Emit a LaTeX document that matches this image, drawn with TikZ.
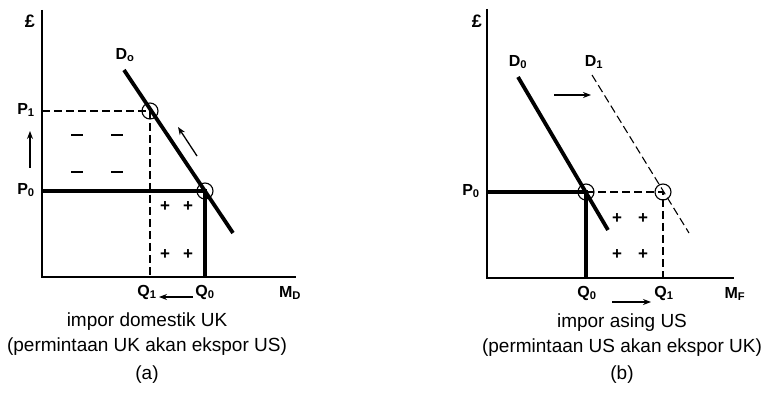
\documentclass[tikz,border=0pt]{standalone}
\usepackage{fontspec}
\setmainfont{Liberation Sans}
\usetikzlibrary{arrows.meta}
\begin{document}
\begin{tikzpicture}[x=1pt,y=-1pt,
  axis/.style={line width=1.8pt},
  thickline/.style={line width=3.8pt},
  dline/.style={line width=1.1pt, dash pattern=on 8pt off 4pt},
  ring/.style={circle, draw, line width=1.1pt, minimum size=16pt, inner sep=0pt},
  lbl/.style={font=\fontsize{16}{16}\selectfont\bfseries, inner sep=0pt},
  captxt/.style={font=\fontsize{19}{19}\selectfont, inner sep=0pt},
  signtxt/.style={font=\fontsize{17}{17}\selectfont\bfseries, inner sep=0pt},
  arr/.style={-{Stealth[length=8pt,width=6pt]}, line width=1.3pt},
  minusmark/.style={line width=1.6pt}
]
\useasboundingbox (0,0) rectangle (769,393);

% ---------------- panel (a) ----------------
\coordinate (La) at (42,10);
\coordinate (Lo) at (42,277);
\coordinate (Lx) at (296,277);
\coordinate (LP1) at (42,111);
\coordinate (LP0) at (42,191);
\coordinate (LE1) at (150,111);
\coordinate (LE0) at (205,191);
\coordinate (LQ1) at (150,277);
\coordinate (LQ0) at (205,277);
\coordinate (LDa) at (124,70);
\coordinate (LDb) at (233,233);

\draw[axis] (La) -- (Lo) -- (Lx);
\draw[thickline] (LDa) -- (LDb);
\draw[thickline] (LP0) -- (LE0) -- (LQ0);
\draw[dline] (LP1) -- (LE1) -- (LQ1);
\node[ring] (LC1) at (LE1) {};
\node[ring] (LC0) at (LE0) {};

\node[lbl, font=\fontsize{18}{18}\selectfont\bfseries] (Lpound) at (30,21) {£};
\node[lbl] (LP1l) at (26,110) {P\textsubscript{1}};
\node[lbl] (LP0l) at (26,190) {P\textsubscript{0}};
\node[lbl] (LD0l) at (125,55) {D\textsubscript{o}};
\node[lbl] (LQ1l) at (147,292) {Q\textsubscript{1}};
\node[lbl] (LQ0l) at (205,292) {Q\textsubscript{0}};
\node[lbl] (LMl) at (290,293) {M\textsubscript{D}};

\coordinate (LupA) at (30,168);
\coordinate (LupB) at (30,131);
\draw[arr] (LupA) -- (LupB);
\coordinate (LdgA) at (197,156);
\coordinate (LdgB) at (178,127);
\draw[arr] (LdgA) -- (LdgB);
\coordinate (LhA) at (193,297);
\coordinate (LhB) at (159,297);
\draw[arr] (LhA) -- (LhB);

\foreach \px/\py [count=\i] in {77/135,117/135,77/172,117/172}{
  \coordinate (Lm\i a) at (\px-6,\py);
  \coordinate (Lm\i b) at (\px+6,\py);
  \draw[minusmark] (Lm\i a) -- (Lm\i b);
}
\foreach \px/\py [count=\i] in {165/207,188/207,165/255,188/255}{
  \node[signtxt] (Lplus\i) at (\px,\py) {+};
}

\node[captxt] (Lcap1) at (147,322) {impor domestik UK};
\node[captxt] (Lcap2) at (147,347) {(permintaan UK akan ekspor US)};
\node[captxt] (Lcap3) at (147,375) {(a)};

% ---------------- panel (b) ----------------
\coordinate (Ra) at (487,9);
\coordinate (Ro) at (487,278);
\coordinate (Rx) at (734,278);
\coordinate (RP0) at (487,192);
\coordinate (RE0) at (586,192);
\coordinate (RE1) at (663,192);
\coordinate (RQ0) at (586,278);
\coordinate (RQ1) at (663,278);
\coordinate (RDa) at (518,77);
\coordinate (RDb) at (608,230);
\coordinate (RFa) at (592,75);
\coordinate (RFb) at (689,233);

\draw[axis] (Ra) -- (Ro) -- (Rx);
\draw[thickline] (RDa) -- (RDb);
\draw[dline] (RFa) -- (RFb);
\draw[thickline] (RP0) -- (RE0) -- (RQ0);
\draw[dline] (RE0) -- (RE1) -- (RQ1);
\node[ring] (RC0) at (RE0) {};
\node[ring] (RC1) at (RE1) {};

\node[lbl, font=\fontsize{18}{18}\selectfont\bfseries] (Rpound) at (477,21) {£};
\node[lbl] (RP0l) at (471,191) {P\textsubscript{0}};
\node[lbl] (RD0l) at (518,62) {D\textsubscript{0}};
\node[lbl] (RD1l) at (594,62) {D\textsubscript{1}};
\node[lbl] (RQ0l) at (587,293) {Q\textsubscript{0}};
\node[lbl] (RQ1l) at (664,293) {Q\textsubscript{1}};
\node[lbl] (RMl) at (735,294) {M\textsubscript{F}};

\coordinate (RsA) at (554,95);
\coordinate (RsB) at (591,95);
\draw[arr] (RsA) -- (RsB);
\coordinate (RhA) at (612,302);
\coordinate (RhB) at (651,302);
\draw[arr] (RhA) -- (RhB);

\foreach \px/\py [count=\i] in {617/219,643/219,617/255,643/255}{
  \node[signtxt] (Rplus\i) at (\px,\py) {+};
}

\node[captxt] (Rcap1) at (622,323) {impor asing US};
\node[captxt] (Rcap2) at (622,348) {(permintaan US akan ekspor UK)};
\node[captxt] (Rcap3) at (622,375) {(b)};
\end{tikzpicture}
\end{document}
